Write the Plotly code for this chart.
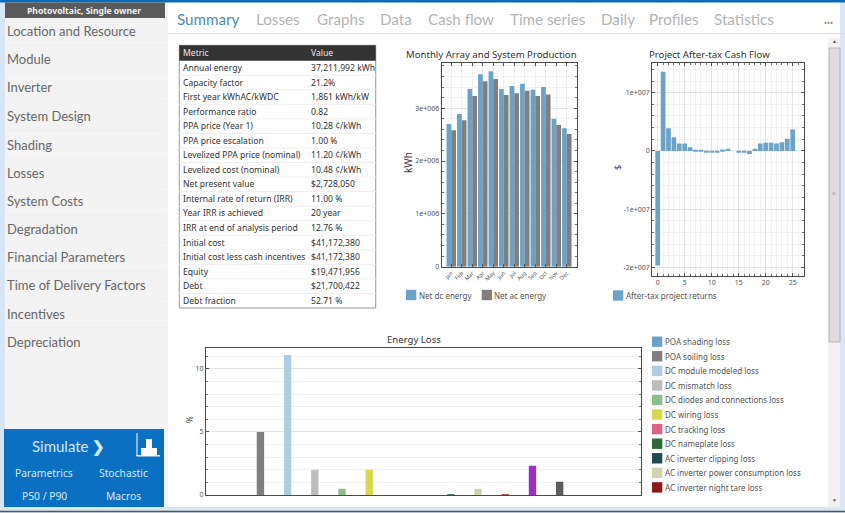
import plotly.graph_objects as go

W, H = 845, 513

# ---------- data ----------
months = ["Jan","Feb","Mar","Apr","May","Jun","Jul","Aug","Sep","Oct","Nov","Dec"]
net_dc = [2.70e6,2.89e6,3.36e6,3.64e6,3.70e6,3.36e6,3.42e6,3.46e6,3.35e6,3.40e6,2.80e6,2.62e6]
net_ac = [2.58e6,2.77e6,3.23e6,3.51e6,3.55e6,3.25e6,3.28e6,3.33e6,3.23e6,3.26e6,2.68e6,2.51e6]

years = list(range(26))
cash_flow = [-1.966e7,1.36e7,3.9e6,2.34e6,1.3e6,1.3e6,6.3e5,5e4,5e4,-2e5,-2e5,-2e5,2.5e5,4e5,
             0,-2e5,-2e5,-5e5,4e5,1.3e6,1.4e6,1.4e6,1.3e6,1.5e6,2.1e6,3.7e6]

loss_names = ["POA shading loss","POA soiling loss","DC module modeled loss","DC mismatch loss",
              "DC diodes and connections loss","DC wiring loss","DC tracking loss","DC nameplate loss",
              "AC inverter clipping loss","AC inverter power consumption loss","AC inverter night tare loss",
              "AC wiring loss","Transformer loss"]
loss_vals = [0,5.0,11.11,2.0,0.5,2.0,0,0,0.05,0.5,0.05,2.33,1.05]
loss_colors = ["#6ba3c8","#7f7f7f","#aecde3","#bdbdbd","#8cbc8c","#d8d850","#e06088","#2f6b3a",
               "#1f4a4f","#d2d3b5","#8b1a1a","#9a2fc8","#5c5c5c"]
n_legend_visible = 11

metrics = ["Annual energy","Capacity factor","First year kWhAC/kWDC","Performance ratio","PPA price (Year 1)",
           "PPA price escalation","Levelized PPA price (nominal)","Levelized cost (nominal)","Net present value",
           "Internal rate of return (IRR)","Year IRR is achieved","IRR at end of analysis period","Initial cost",
           "Initial cost less cash incentives","Equity","Debt","Debt fraction"]
metric_values = ["37,211,992 kWh","21.2%","1,861 kWh/kW","0.82","10.28 ¢/kWh","1.00 %","11.20 ¢/kWh","10.48 ¢/kWh",
                 "$2,728,050","11.00 %","20 year","12.76 %","$41,172,380","$41,172,380","$19,471,956",
                 "$21,700,422","52.71 %"]

side_items = ["Location and Resource","Module","Inverter","System Design","Shading","Losses","System Costs",
              "Degradation","Financial Parameters","Time of Delivery Factors","Incentives","Depreciation"]
tabs = ["Summary","Losses","Graphs","Data","Cash flow","Time series","Daily","Profiles","Statistics"]

FONT = "Noto Sans"
LIGHT = "Lato"

def px(x): return x / W
def py(y): return 1 - y / H

shapes, ann = [], []

def rect(x0, y0, x1, y1, fill, line=None, lw=1, layer="below"):
    shapes.append(dict(type="rect", xref="paper", yref="paper", x0=px(x0), x1=px(x1), y0=py(y0), y1=py(y1),
                       fillcolor=fill, line=dict(color=line or fill, width=lw if line else 0), layer=layer))

def hline(x0, x1, y, color, lw=1):
    shapes.append(dict(type="line", xref="paper", yref="paper", x0=px(x0), x1=px(x1), y0=py(y), y1=py(y),
                       line=dict(color=color, width=lw), layer="below"))

def text(x, y, s, size=10, color="#333333", anchor="left", angle=0, family=FONT):
    ann.append(dict(xref="paper", yref="paper", x=px(x), y=py(y), text=s, showarrow=False, xanchor=anchor,
                    yanchor="middle", textangle=angle, font=dict(family=family, size=size, color=color),
                    borderpad=0, borderwidth=0))

# ---------- application chrome ----------
rect(0, 0, 5, H, "#d9e6f5")
rect(840, 0, W, H, "#d9e6f5")
rect(5, 2, 168, 507, "#f3f3f3")
rect(0, 0, W, 2.5, "#0a6cb8")
rect(5, 2.5, 165, 18, "#5a5a5a")
text(84, 10.5, "<b>Photovoltaic, Single owner</b>", 8.6, "#f2f2f2", "center")
rows_y = [31, 59.5, 87.5, 116, 144.5, 172.5, 201, 229, 257, 285, 313.5, 342]
for s, y in zip(side_items, rows_y):
    text(7, y, s, 13, "#686868", family=LIGHT)
    hline(5, 167, y + 14, "#eeeeee")

rect(4, 429, 164, 507, "#0b6fc2")
text(68, 446, "Simulate <b>❯</b>", 15, "#d5eafc", "center", family=LIGHT)
text(44, 473, "Parametrics", 10.3, "#d5eafc", "center")
text(124, 473, "Stochastic", 10.3, "#d5eafc", "center")
text(44, 496, "P50 / P90", 10.3, "#d5eafc", "center")
text(124, 496, "Macros", 10.3, "#d5eafc", "center")
rect(136.5, 433, 137.5, 456, "#ffffff")
rect(136.5, 455, 160, 456.5, "#ffffff")
rect(141, 448, 146, 455, "#ffffff")
rect(146, 439, 152, 455, "#ffffff")
rect(152, 448, 157, 455, "#ffffff")

tab_x = [177, 256, 317, 380, 428, 510, 601, 649, 714]
for i, (s, x) in enumerate(zip(tabs, tab_x)):
    text(x, 19, s, 15.2, "#4a8cc0" if i == 0 else "#b4b4b4", family=LIGHT)
text(824, 23, "•••", 8, "#888888")
hline(168, 845, 33.5, "#dddddd")

# scrollbar
rect(828, 38, 840, 507, "#f1f1f1")
rect(829, 48, 840, 342, "#dcdcdc", "#b5b5b5")
text(834, 193, "≡", 7, "#777777", "center")
text(834, 40.5, "▲", 5, "#555555", "center")
text(834, 500, "▼", 5, "#555555", "center")

# bottom bar
rect(0, 507, W, 513, "#d9e6f5")
hline(0, W, 511.5, "#555555", 1.5)

# ---------- summary table ----------
tx0, tx1, ty0, ty1, head = 179.3, 375.7, 45.3, 308, 60.7
rect(tx0, ty0, tx1, ty1, "#ffffff", "#9a9a9a")
rect(tx0, ty0, tx1, head, "#333333")
text(183, 53, "Metric", 8.6, "#e8e8e8")
text(310.5, 53, "Value", 8.6, "#e8e8e8")
rh = (ty1 - head) / len(metrics)
for i, (m, v) in enumerate(zip(metrics, metric_values)):
    y = head + rh * (i + 0.5)
    text(183, y, m, 8.6, "#333333")
    text(310.5, y, v, 8.6, "#333333")
    if i:
        hline(tx0, tx1, head + rh * i, "#efefef")

# ---------- charts ----------
fig = go.Figure()

fig.add_trace(go.Bar(x=months, y=net_dc, name="Net dc energy", marker=dict(color="#6ba3c8", line_width=0),
                     xaxis="x", yaxis="y", showlegend=False))
fig.add_trace(go.Bar(x=months, y=net_ac, name="Net ac energy", marker=dict(color="#7f7f7f", line_width=0),
                     xaxis="x", yaxis="y", showlegend=False))
fig.add_trace(go.Bar(x=years, y=cash_flow, name="After-tax project returns", width=0.87,
                     marker=dict(color="#6ba3c8", line_width=0), xaxis="x2", yaxis="y2", showlegend=False))
fig.add_trace(go.Bar(x=list(range(len(loss_vals))), y=loss_vals, name="Energy Loss", width=0.27,
                     marker=dict(color=loss_colors, line_width=0), xaxis="x3", yaxis="y3", showlegend=False,
                     hovertext=loss_names))

def axis(dom, anchor, rng, **kw):
    d = dict(domain=dom, anchor=anchor, range=rng, showline=True, linecolor="#4a4a4a", linewidth=1.2,
             mirror="allticks", ticks="inside", ticklen=3, tickcolor="#555555", tickwidth=1, automargin=False,
             showgrid=True, gridcolor="#e4e4e4", gridwidth=1, zeroline=False,
             tickfont=dict(family=FONT, size=7, color="#555555"))
    d.update(kw)
    return d

def minor(dtick):
    return dict(dtick=dtick, ticks="inside", ticklen=2, tickcolor="#777777", showgrid=True,
                gridcolor="#f1f1f1", gridwidth=1)

# chart 1
fx0, fx1, fy0, fy1 = 441.7, 577, 62.7, 266.7
layout_axes = dict(
    xaxis=axis([px(fx0), px(fx1)], "y", [-0.91, 11.97], type="category", tickangle=-45,
               tickfont=dict(family=FONT, size=5.5, color="#555555"), gridcolor="#efefef"),
    yaxis=axis([py(fy1), py(fy0)], "x", [0, 3.86e6], tickvals=[0, 1e6, 2e6, 3e6],
               ticktext=["0", "1e+006", "2e+006", "3e+006"], minor=minor(2e5)),
)
# chart 2
gx0, gx1, gy0, gy1 = 652.3, 804.3, 62.7, 275.7
layout_axes.update(
    xaxis2=axis([px(gx0), px(gx1)], "y2", [-1, 27.15], tickvals=[0, 5, 10, 15, 20, 25], minor=minor(1)),
    yaxis2=axis([py(gy1), py(gy0)], "x2", [-2.139e7, 1.514e7], tickvals=[-2e7, -1e7, 0, 1e7],
                ticktext=["-2e+007", "-1e+007", "0", "1e+007"], minor=minor(2e6)),
)
# chart 3
hx0, hx1, hy0, hy1 = 206, 641.3, 348.3, 495
layout_axes.update(
    xaxis3=axis([px(hx0), px(hx1)], "y3", [-1, 15], showticklabels=False, ticks="", mirror=True, showgrid=False),
    yaxis3=axis([py(hy1), py(hy0)], "x3", [0, 11.64], tickvals=[0, 5, 10], minor=minor(1)),
)

# axis titles
text(408, 163, "kWh", 10, "#444444", "center", angle=-90)
text(617, 168, "$", 9, "#444444", "center", angle=-90)
text(189, 420, "%", 8, "#444444", "center", angle=-90)

# titles
text(491.5, 54, "Monthly Array and System Production", 9.6, "#333333", "center")
text(709, 54, "Project After-tax Cash Flow", 9.6, "#333333", "center")
text(413.5, 339.5, "Energy Loss", 9.6, "#333333", "center")

# legends
def swatch(x, y, color, label):
    rect(x, y - 5.2, x + 10.3, y + 5.2, color, layer="above")
    text(x + 12.5, y, label, 8, "#555555")

swatch(406, 295, "#6ba3c8", "Net dc energy")
swatch(481.7, 295, "#7f7f7f", "Net ac energy")
swatch(613, 295.5, "#6ba3c8", "After-tax project returns")
for i in range(n_legend_visible):
    swatch(652, 341.7 + 14.57 * i, loss_colors[i], loss_names[i])

fig.update_layout(width=W, height=H, margin=dict(l=0, r=0, t=0, b=0), autosize=False,
                  paper_bgcolor="#ffffff", plot_bgcolor="rgba(0,0,0,0)", barmode="group", bargap=0.1,
                  bargroupgap=0, shapes=shapes, annotations=ann, showlegend=False, **layout_axes)

fig.write_html("out.html", config=dict(displayModeBar=False),
               post_script="""
document.documentElement.style.overflow='hidden';
document.documentElement.style.margin='0';
document.body.style.margin='0';
document.body.style.overflow='hidden';
document.body.style.height='513px';
""")
